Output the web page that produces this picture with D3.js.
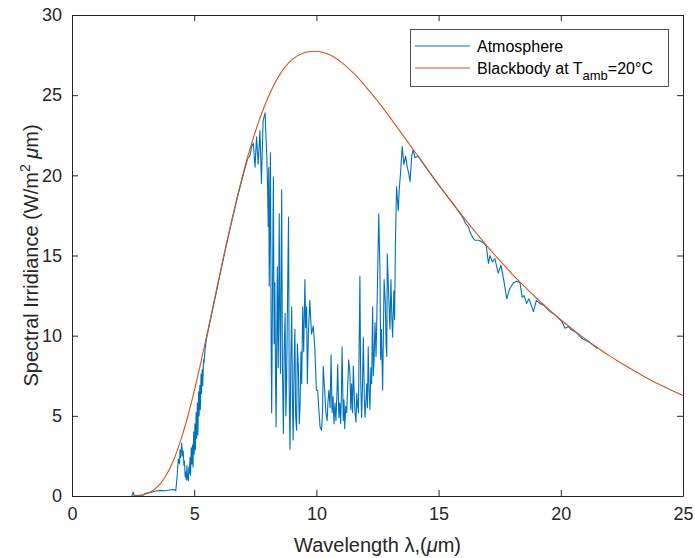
<!DOCTYPE html>
<html>
<head>
<meta charset="utf-8">
<script src="https://cdn.jsdelivr.net/npm/d3@7"></script>
<style>
html,body{margin:0;padding:0;background:#fff;}
svg{display:block;font-family:"Liberation Sans",Arial,Helvetica,sans-serif;}
</style>
</head>
<body>
<svg id="chart" width="695" height="558"></svg>
<script>
// ---- data ----
const xTicks = [0, 5, 10, 15, 20, 25];
const yTicks = [0, 5, 10, 15, 20, 25, 30];

// Blackbody at 20°C (W/m^2 um)
const bbWl  = [2.5, 2.75, 3, 3.25, 3.5, 3.75, 4, 4.25, 4.5, 4.75, 5, 5.5, 5.75, 6, 6.25, 6.5, 6.75, 7, 7.2, 7.5, 8, 8.5, 9, 9.5, 9.75, 10, 10.25, 10.5, 11, 11.5, 12, 12.5, 13, 13.5, 14, 14.5, 15, 15.5, 16, 16.5, 17, 17.5, 18, 18.5, 19, 19.5, 20, 20.5, 21, 21.5, 22, 22.5, 23, 23.5, 24, 24.5, 25];
const bbVal = [0.011, 0.042, 0.121, 0.285, 0.579, 1.044, 1.714, 2.606, 3.717, 5.036, 6.535, 9.905, 11.69, 13.49, 15.26, 16.96, 18.58, 20.09, 21.21, 22.72, 24.78, 26.28, 27.22, 27.64, 27.72, 27.74, 27.68, 27.55, 27.08, 26.40, 25.57, 24.64, 23.63, 22.59, 21.53, 20.47, 19.43, 18.41, 17.42, 16.47, 15.56, 14.69, 13.86, 13.09, 12.35, 11.65, 10.99, 10.38, 9.80, 9.25, 8.74, 8.26, 7.81, 7.38, 6.98, 6.61, 6.26];

// Atmosphere
const atmWl = [2.45, 2.5, 2.55, 2.9, 3.0, 3.2, 3.4, 3.6, 3.8, 4.0, 4.15, 4.25,
  4.3, 4.35, 4.4, 4.42, 4.45, 4.49, 4.52, 4.55, 4.58, 4.6, 4.63, 4.65, 4.68, 4.7, 4.73, 4.76, 4.78, 4.8, 4.83, 4.85, 4.88, 4.9, 4.93, 4.95, 4.98, 5.0, 5.03, 5.05, 5.08, 5.1, 5.13, 5.15, 5.18, 5.2, 5.23, 5.25, 5.28, 5.3, 5.33, 5.35, 5.38, 5.4, 5.45,
  5.5, 5.75, 6.0, 6.25, 6.5, 6.75, 7.0, 7.2, 7.28, 7.35, 7.42, 7.49, 7.55, 7.62, 7.69, 7.75, 7.82, 7.9, 7.97,
  8.0, 8.03, 8.05, 8.07, 8.1, 8.12, 8.15, 8.17, 8.2, 8.24, 8.27, 8.3, 8.33, 8.35, 8.38, 8.4, 8.44, 8.48, 8.5, 8.53, 8.56, 8.58, 8.61, 8.65, 8.68, 8.72, 8.75, 8.78, 8.82, 8.86, 8.89, 8.92, 8.95, 8.99, 9.02, 9.05, 9.08, 9.12, 9.15, 9.19, 9.22, 9.26, 9.3, 9.33, 9.37, 9.4, 9.44, 9.48, 9.53, 9.56, 9.6, 9.63, 9.67, 9.73,
  9.8, 9.87, 9.94, 10.0, 10.05, 10.1, 10.15, 10.21, 10.25, 10.28, 10.33, 10.39, 10.44, 10.47, 10.51, 10.56, 10.6, 10.64, 10.68, 10.72, 10.76, 10.8, 10.84, 10.87, 10.92, 10.96, 10.99, 11.02, 11.05, 11.1, 11.13, 11.16, 11.2, 11.24, 11.28, 11.32, 11.37, 11.41, 11.44, 11.48, 11.51, 11.55, 11.58, 11.62, 11.65, 11.69, 11.72, 11.75, 11.78, 11.81, 11.85, 11.88, 11.92, 11.96, 11.99, 12.03, 12.06, 12.09, 12.12, 12.16, 12.19, 12.23, 12.26, 12.3, 12.33, 12.36, 12.4, 12.44, 12.47, 12.5, 12.55, 12.6, 12.63, 12.66, 12.71, 12.74, 12.77, 12.82, 12.85, 12.88, 12.9, 12.96, 13.01, 13.05, 13.09, 13.12, 13.17, 13.2, 13.23,
  13.28, 13.35, 13.39, 13.45, 13.51, 13.58, 13.65, 13.72, 13.78, 13.83, 13.9, 13.96, 14.03, 14.17, 14.5, 15.0, 15.5, 15.8, 16.0, 16.1, 16.22, 16.3, 16.4, 16.49, 16.65, 16.83, 16.95, 17.04, 17.1, 17.2, 17.3, 17.44, 17.55, 17.65, 17.79, 17.9, 18.06, 18.2, 18.33, 18.42, 18.5, 18.6, 18.7, 18.88, 19.0, 19.15, 19.3, 19.56, 19.8, 20.04, 20.17, 20.3, 20.45, 20.58, 20.7, 20.85, 20.99, 21.2, 21.5];
const atmVal = [0.0, 0.25, 0.02, 0.05, 0.17, 0.22, 0.3, 0.35, 0.33, 0.37, 0.4, 0.35,
  1.2, 2.3, 2.0, 2.9, 2.4, 3.3, 2.5, 2.8, 1.9, 2.2, 1.2, 1.5, 1.0, 1.9, 1.1, 0.95, 1.8, 1.4, 2.4, 1.3, 3.0, 2.0, 3.2, 1.8, 4.0, 2.6, 4.5, 2.9, 5.2, 3.6, 5.8, 3.8, 6.5, 5.0, 6.9, 5.4, 7.6, 6.4, 7.9, 6.9, 8.5, 8.3, 9.2,
  9.8, 11.6, 13.4, 15.2, 16.9, 18.5, 20.0, 21.1, 21.2, 21.8, 22.0, 20.5, 22.4, 20.7, 22.8, 19.5, 23.4, 23.9, 21.2,
  19.5, 16.8, 20.5, 13.1, 18.0, 21.4, 9.0, 5.2, 12.0, 19.9, 9.5, 13.3, 7.0, 4.3, 10.0, 14.3, 8.0, 17.6, 12.0, 7.65, 15.0, 19.1, 8.0, 3.9, 9.0, 11.4, 5.0, 7.0, 12.5, 17.4, 6.0, 2.9, 8.0, 11.8, 6.0, 3.5, 7.5, 10.4, 5.0, 4.1, 9.5, 8.1, 4.5, 5.6, 9.0, 7.0, 11.8, 9.0, 13.5, 10.5, 11.8, 7.0, 10.0, 12.2,
  10.1, 10.6, 9.1, 6.6, 6.6, 5.4, 4.3, 4.1, 5.2, 8.1, 6.8, 5.2, 4.7, 5.8, 6.6, 5.5, 8.8, 5.2, 6.2, 4.5, 5.8, 4.7, 6.3, 8.2, 4.9, 5.8, 4.5, 6.0, 9.3, 4.7, 6.0, 4.2, 5.6, 5.2, 6.8, 8.5, 7.65, 5.4, 7.0, 5.2, 8.1, 6.3, 5.2, 4.6, 6.4, 5.6, 5.2, 9.5, 13.7, 7.5, 4.9, 6.5, 9.9, 6.2, 4.9, 6.0, 7.0, 5.5, 9.3, 6.5, 5.4, 8.0, 7.0, 11.8, 7.5, 8.5, 10.8, 8.7, 11.0, 13.3, 17.6, 14.1, 8.5, 10.4, 6.6, 10.0, 13.5, 12.0, 9.5, 8.7, 15.1, 12.4, 10.4, 13.5, 11.0, 9.9, 12.8, 11.0, 15.5,
  19.3, 17.8, 19.1, 20.3, 21.8, 20.7, 21.2, 20.5, 20.1, 19.6, 21.2, 21.6, 21.1, 21.2, 20.45, 19.4, 18.4, 17.8, 17.35, 17.0, 16.8, 16.4, 16.1, 15.95, 15.95, 15.8, 15.6, 14.5, 15.0, 14.6, 14.8, 13.9, 14.4, 13.6, 12.3, 12.9, 13.3, 13.4, 13.3, 12.4, 12.5, 12.0, 12.3, 11.5, 12.2, 12.0, 11.9, 11.5, 11.25, 10.9, 10.46, 10.56, 10.35, 10.25, 10.1, 9.84, 9.73, 9.55, 9.2];

const seriesNames = ["Atmosphere", "Blackbody at T"];
const colors = ["#0072BD", "#D95319"];

// ---- layout ----
const L = 72, R = 683, T = 15, B = 496;
const svg = d3.select("#chart");
const x = d3.scaleLinear().domain([0, 25]).range([L, R]);
const y = d3.scaleLinear().domain([0, 30]).range([B, T]);
const axisColor = "#262626";

// lines
const atm = atmWl.map((w, i) => [w, atmVal[i]]);
const bb = bbWl.map((w, i) => [w, bbVal[i]]);
svg.append("clipPath").attr("id", "clip").append("rect")
  .attr("x", L).attr("y", T).attr("width", R - L).attr("height", B - T);
const plot = svg.append("g").attr("clip-path", "url(#clip)");
plot.append("path").datum(atm)
  .attr("d", d3.line().x(d => x(d[0])).y(d => y(d[1])))
  .attr("fill", "none").attr("stroke", colors[0]).attr("stroke-width", 1.1)
  .attr("stroke-linejoin", "round");
plot.append("path").datum(bb)
  .attr("d", d3.line().curve(d3.curveMonotoneX).x(d => x(d[0])).y(d => y(d[1])))
  .attr("fill", "none").attr("stroke", colors[1]).attr("stroke-width", 1.1);

// axes
function styleAxis(g, fs) {
  g.selectAll(".domain").attr("stroke", axisColor).attr("stroke-width", 1);
  g.selectAll(".tick line").attr("stroke", axisColor).attr("stroke-width", 1);
  g.selectAll(".tick text").attr("fill", axisColor).style("font-size", fs + "px");
}
const gx = svg.append("g").attr("transform", `translate(0,${B})`)
  .call(d3.axisBottom(x).tickValues(xTicks).tickSizeInner(-6).tickSizeOuter(0).tickPadding(11).tickFormat(d3.format("d")));
styleAxis(gx, 18);
const gxt = svg.append("g").attr("transform", `translate(0,${T})`)
  .call(d3.axisTop(x).tickValues(xTicks).tickSizeInner(-6).tickSizeOuter(0).tickFormat(""));
styleAxis(gxt, 18);
const gy = svg.append("g").attr("transform", `translate(${L},0)`)
  .call(d3.axisLeft(y).tickValues(yTicks).tickSizeInner(-6).tickSizeOuter(0).tickPadding(10).tickFormat(d3.format("d")));
styleAxis(gy, 18);
const gyr = svg.append("g").attr("transform", `translate(${R},0)`)
  .call(d3.axisRight(y).tickValues(yTicks).tickSizeInner(-6).tickSizeOuter(0).tickFormat(""));
styleAxis(gyr, 18);

// axis labels
const xl = svg.append("text").attr("x", (L + R) / 2).attr("y", 552)
  .attr("text-anchor", "middle").attr("fill", axisColor).style("font-size", "20px");
xl.append("tspan").text("Wavelength \u03BB,(");
xl.append("tspan").style("font-style", "italic").text("\u03BC");
xl.append("tspan").text("m)");

const yl = svg.append("text").attr("transform", `translate(38,${(T + B) / 2}) rotate(-90)`)
  .attr("text-anchor", "middle").attr("fill", axisColor).style("font-size", "20px");
yl.append("tspan").text("Spectral Irridiance (W/m");
yl.append("tspan").attr("dy", -8).style("font-size", "14px").text("2");
yl.append("tspan").attr("dy", 8).text(" ");
yl.append("tspan").style("font-style", "italic").text("\u03BC");
yl.append("tspan").text("m)");

// legend
const lg = svg.append("g");
lg.append("rect").attr("x", 410.5).attr("y", 29.5).attr("width", 258).attr("height", 57)
  .attr("fill", "#fff").attr("stroke", axisColor).attr("stroke-width", 0.8);
const rows = [46, 68];
rows.forEach((ry, i) => {
  lg.append("line").attr("x1", 415).attr("x2", 470).attr("y1", ry).attr("y2", ry)
    .attr("stroke", colors[i]).attr("stroke-width", 1.1);
});
lg.append("text").attr("x", 477).attr("y", rows[0] + 6).attr("fill", "#000")
  .style("font-size", "16px").text(seriesNames[0]);
const t2 = lg.append("text").attr("x", 477).attr("y", rows[1] + 6).attr("fill", "#000")
  .style("font-size", "16px");
t2.append("tspan").text(seriesNames[1]);
t2.append("tspan").attr("dy", 6).style("font-size", "13px").text("amb");
t2.append("tspan").attr("dy", -6).text("=20\u00B0C");
</script>
</body>
</html>
